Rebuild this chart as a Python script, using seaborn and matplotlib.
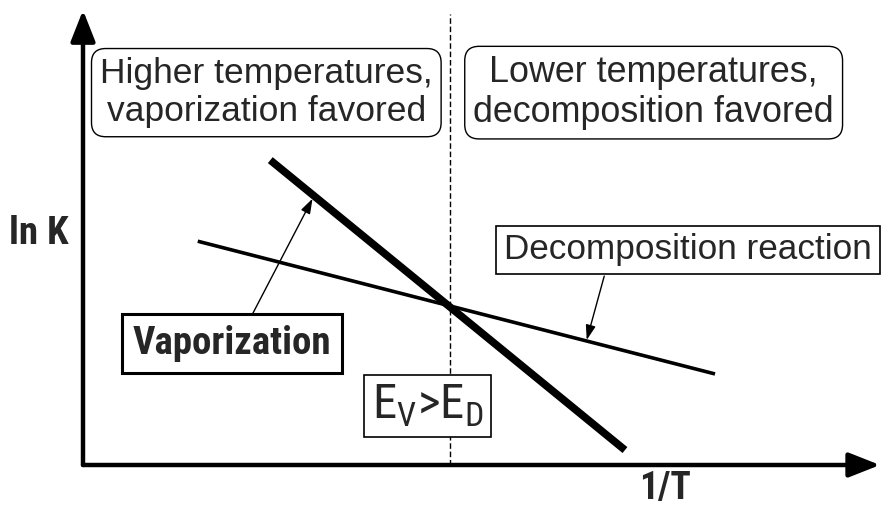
import matplotlib
matplotlib.use("Agg")
import matplotlib.pyplot as plt
import seaborn as sns

# Schematic van 't Hoff style plot: ln K versus 1/T for two processes
inv_T_vap = [2.35, 6.80]
lnK_vap = [6.73, 0.33]
inv_T_dec = [1.44, 7.93]
lnK_dec = [4.94, 2.01]
crossover_inv_T = 4.6

sns.set_style("white")
plt.rcParams["font.family"] = ["Liberation Sans", "DejaVu Sans"]
plt.rcParams["mathtext.fontset"] = "custom"
plt.rcParams["mathtext.rm"] = "Roboto Condensed"
narrow = ["Roboto Condensed", "DejaVu Sans"]

fig = plt.figure(figsize=(8.83, 5.07), dpi=100)
ax = fig.add_axes([83 / 883, 42 / 507, 797 / 883, 453 / 507])
ax.set_xlim(0, 10)
ax.set_ylim(0, 10)
ax.set_axis_off()

# the two lines
sns.lineplot(x=inv_T_vap, y=lnK_vap, ax=ax, color="black", linewidth=5.5,
             solid_capstyle="butt")
sns.lineplot(x=inv_T_dec, y=lnK_dec, ax=ax, color="black", linewidth=2.6,
             solid_capstyle="butt")

# dashed divider
ax.axvline(crossover_inv_T, ymin=0, ymax=0.995, color="black", lw=1,
           linestyle=(0, (4, 2)))

# axes as arrows
axis_arrow = dict(arrowstyle="-|>,head_length=1.9,head_width=0.75", lw=3.2,
                  color="black", mutation_scale=10, shrinkA=0, shrinkB=0)
ax.annotate("", xy=(10, 0), xytext=(0, 0), arrowprops=axis_arrow,
            annotation_clip=False)
ax.annotate("", xy=(0, 10.04), xytext=(0, 0), arrowprops=axis_arrow,
            annotation_clip=False)

ax.text(-0.56, 5.12, "ln K", family=narrow, fontsize=28, fontweight="bold",
        ha="center", va="center", clip_on=False)
ax.text(7.30, -0.52, "1/T", family=narrow, fontsize=27, fontweight="bold",
        ha="center", va="center", clip_on=False)

# region boxes
round_box = dict(boxstyle="round,pad=0.24,rounding_size=0.4", fc="white",
                 ec="black", lw=1)
ax.text(2.30, 8.22, "Higher temperatures,\nvaporization favored", fontsize=25.5,
        ha="center", va="center", linespacing=1.2, bbox=round_box)
ax.text(7.16, 8.22, "Lower temperatures,\ndecomposition favored", fontsize=25.8,
        ha="center", va="center", linespacing=1.2, bbox=round_box)

# labels with pointers
small_arrow = dict(arrowstyle="-|>,head_length=0.9,head_width=0.3", lw=1,
                   color="black", mutation_scale=10, shrinkA=0, shrinkB=0)
ax.text(1.87, 2.68, "Vaporization", family=narrow, fontsize=28,
        fontweight="bold", ha="center", va="center",
        bbox=dict(boxstyle="square,pad=0.28", fc="white", ec="black", lw=2.2))
ax.annotate("", xy=(2.88, 5.88), xytext=(2.12, 3.31), arrowprops=small_arrow)

ax.text(7.59, 4.75, "Decomposition reaction", fontsize=25.3,
        ha="center", va="center", clip_on=False,
        bbox=dict(boxstyle="square,pad=0.22", fc="white", ec="black", lw=1.2))
ax.annotate("", xy=(6.32, 2.76), xytext=(6.54, 4.17), arrowprops=small_arrow)

ax.text(4.32, 1.30, r"E$_\mathregular{V}$>E$_\mathregular{D}$", family=narrow,
        fontsize=35, ha="center", va="center",
        bbox=dict(boxstyle="square,pad=0.16", fc="white", ec="black", lw=1.2))

fig.savefig("out.png", dpi=100)
